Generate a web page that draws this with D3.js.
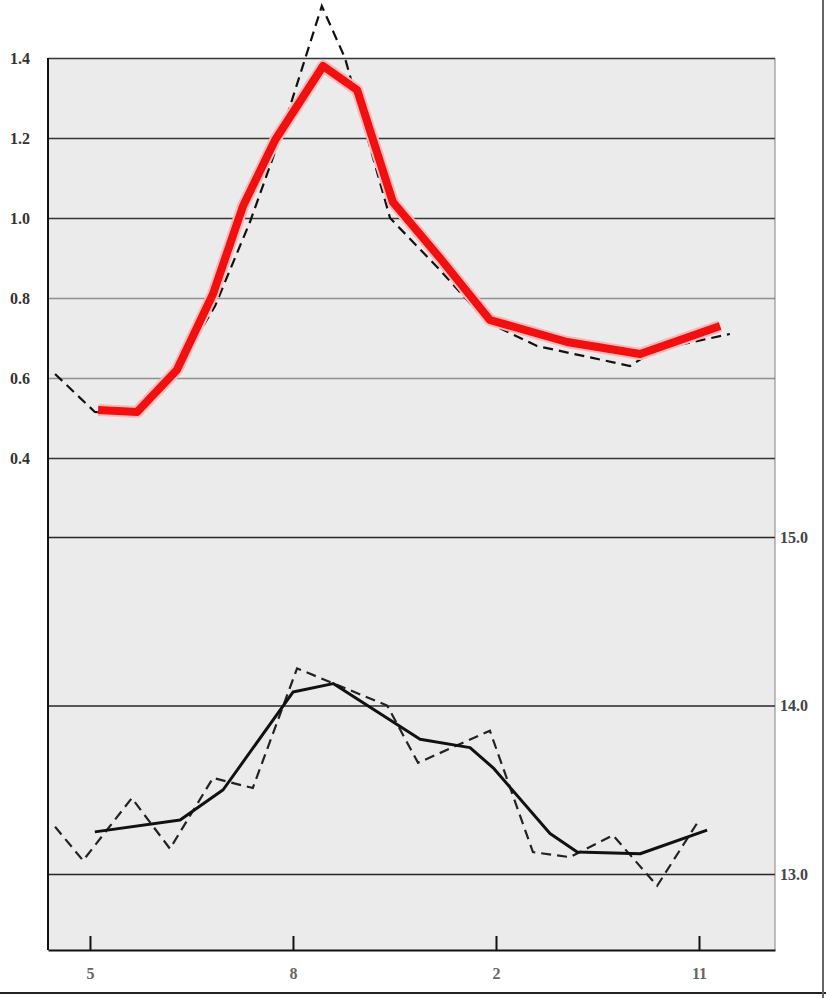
<!DOCTYPE html>
<html><head><meta charset="utf-8">
<script src="https://cdn.jsdelivr.net/npm/d3@7"></script>
<style>
html,body{margin:0;padding:0;background:#fff;}
svg{display:block;}
text{font-family:"Liberation Serif","DejaVu Serif",serif;}
</style></head>
<body>
<svg id="c" width="826" height="998"></svg>
<script>
// ---- data ----
const xTickValues = [0, 5, 10, 15];
const xTickLabels = ["5", "8", "2", "11"];
const topTicks = [0.4, 0.6, 0.8, 1.0, 1.2, 1.4];
const bottomTicks = [13.0, 14.0, 15.0];

// top panel: thick red line
const redX = [0.2, 1.16, 2.14, 3.03, 3.77, 4.56, 5.74, 6.58, 7.46, 8.62, 9.85, 11.75, 13.55, 15.52];
const redY = [0.52, 0.515, 0.62, 0.81, 1.03, 1.195, 1.38, 1.32, 1.04, 0.9, 0.745, 0.69, 0.66, 0.73];
// top panel: dashed line
const topDashX = [-0.86, 0.12, 1.16, 2.14, 3.08, 3.94, 4.68, 5.71, 6.28, 7.39, 8.62, 9.78, 11.01, 13.3, 13.92, 15.76];
const topDashY = [0.61, 0.515, 0.513, 0.62, 0.78, 0.99, 1.2, 1.53, 1.40, 1.0, 0.87, 0.74, 0.68, 0.63, 0.67, 0.71];
// bottom panel: solid black line
const blackX = [0.12, 2.22, 3.28, 5.0, 5.99, 8.13, 9.36, 9.93, 11.33, 12.0, 13.55, 15.2];
const blackY = [13.25, 13.32, 13.50, 14.08, 14.13, 13.80, 13.75, 13.63, 13.24, 13.13, 13.12, 13.26];
// bottom panel: dashed line
const botDashX = [-0.86, -0.17, 1.03, 1.97, 3.03, 4.01, 5.1, 7.32, 8.08, 9.85, 10.91, 11.82, 12.88, 13.97, 14.95];
const botDashY = [13.28, 13.08, 13.45, 13.15, 13.57, 13.51, 14.22, 14.0, 13.66, 13.85, 13.13, 13.10, 13.23, 12.93, 13.30];

// ---- layout ----
const L = 48, R = 775, T = 58, B = 950;
const svg = d3.select("#c");

const x = d3.scaleLinear().domain([-1.034, 16.872]).range([L, R]);
const yTop = d3.scaleLinear().domain([0.4, 1.4]).range([458, 58]);
const yBot = d3.scaleLinear().domain([13, 15]).range([874, 537]);

// background
svg.append("rect").attr("x", L).attr("y", T).attr("width", R - L).attr("height", B - T).attr("fill", "#ebebeb");

// top gridlines + left labels
const gTop = svg.append("g").attr("transform", `translate(${L},0)`)
  .call(d3.axisLeft(yTop).tickValues(topTicks).tickSize(-(R - L)).tickPadding(18).tickFormat(d3.format(".1f")));
gTop.select(".domain").remove();
gTop.selectAll(".tick line").attr("stroke", "#222").attr("stroke-width", 1.5)
  .attr("stroke-opacity", d => (d === 0.8 || d === 0.6) ? 0.45 : 0.9);
gTop.selectAll(".tick text").attr("font-size", 16).attr("font-weight", "bold").attr("fill", "#333");

// right axis (lower panel) gridlines + labels
const gBot = svg.append("g").attr("transform", `translate(${R},0)`)
  .call(d3.axisRight(yBot).tickValues(bottomTicks).tickSize(-(R - L)).tickPadding(5).tickFormat(d3.format(".1f")));
gBot.select(".domain").remove();
gBot.selectAll(".tick line").attr("stroke", "#111").attr("stroke-width", 1.6).attr("stroke-opacity", 0.9);
gBot.selectAll(".tick text").attr("font-size", 16).attr("font-weight", "bold").attr("fill", "#444");

// left axis line
svg.append("line").attr("x1", L).attr("x2", L).attr("y1", T).attr("y2", B)
  .attr("stroke", "#111").attr("stroke-width", 2);
// right axis line
svg.append("line").attr("x1", R).attr("x2", R).attr("y1", T).attr("y2", B)
  .attr("stroke", "#555").attr("stroke-width", 1.2).attr("stroke-opacity", 0.6);

// bottom axis
const gX = svg.append("g").attr("transform", `translate(0,${B})`)
  .call(d3.axisBottom(x).tickValues(xTickValues).tickSize(-14).tickSizeOuter(0).tickPadding(18)
    .tickFormat((d, i) => xTickLabels[i]));
gX.select(".domain").attr("stroke", "#111").attr("stroke-width", 2);
gX.selectAll(".tick line").attr("stroke", "#111").attr("stroke-width", 2);
gX.selectAll(".tick text").attr("font-size", 16).attr("font-weight", "bold").attr("fill", "#666");

// lines
const toPts = (xs, ys) => xs.map((v, i) => [v, ys[i]]);
const lineTop = d3.line().x(d => x(d[0])).y(d => yTop(d[1]));
const lineBot = d3.line().x(d => x(d[0])).y(d => yBot(d[1]));

svg.append("path").attr("d", lineTop(toPts(topDashX, topDashY)))
  .attr("fill", "none").attr("stroke", "#111").attr("stroke-width", 2.2).attr("stroke-dasharray", "10,6");
svg.append("path").attr("d", lineTop(toPts(redX, redY)))
  .attr("fill", "none").attr("stroke", "#ffb8b8").attr("stroke-width", 12).attr("stroke-linejoin", "round");
svg.append("path").attr("d", lineTop(toPts(redX, redY)))
  .attr("fill", "none").attr("stroke", "#f01010").attr("stroke-width", 8).attr("stroke-linejoin", "round");

svg.append("path").attr("d", lineBot(toPts(botDashX, botDashY)))
  .attr("fill", "none").attr("stroke", "#222").attr("stroke-width", 2.2).attr("stroke-dasharray", "10,6");
svg.append("path").attr("d", lineBot(toPts(blackX, blackY)))
  .attr("fill", "none").attr("stroke", "#111").attr("stroke-width", 3).attr("stroke-linejoin", "round");

// scan border lines
svg.append("line").attr("x1", 0).attr("x2", 826).attr("y1", 993).attr("y2", 993)
  .attr("stroke", "#222").attr("stroke-width", 2);
svg.append("line").attr("x1", 823).attr("x2", 823).attr("y1", 0).attr("y2", 998)
  .attr("stroke", "#666").attr("stroke-width", 2);
</script>
</body></html>
